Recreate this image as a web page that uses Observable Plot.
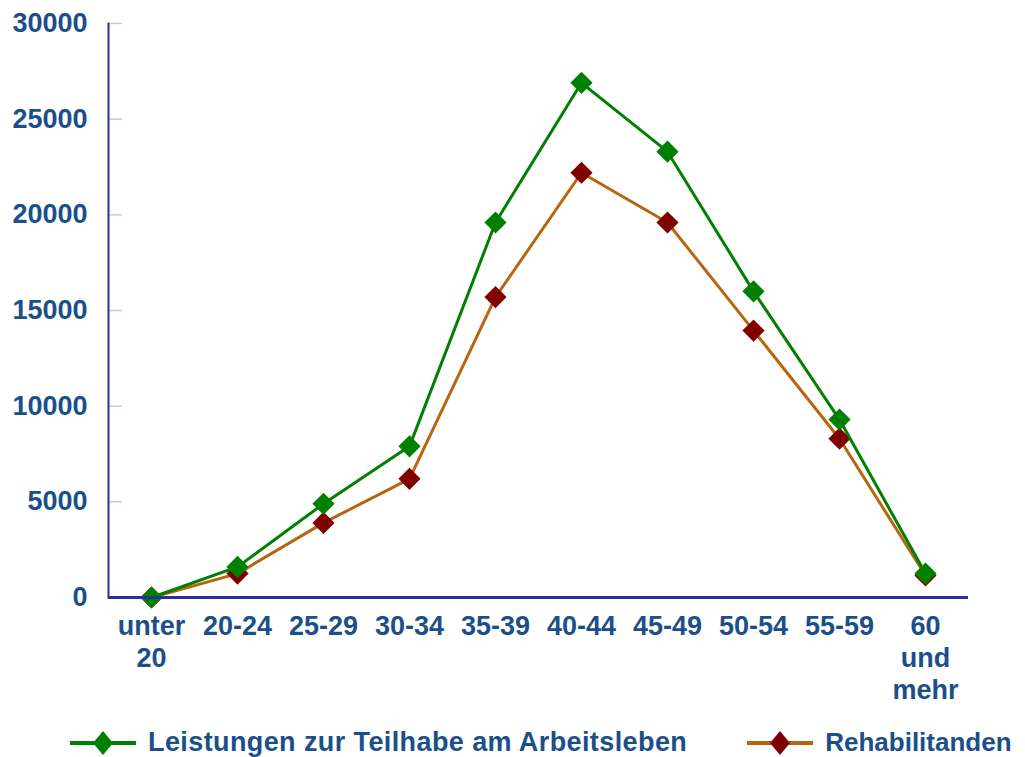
<!DOCTYPE html>
<html>
<head>
<meta charset="utf-8">
<script src="https://cdn.jsdelivr.net/npm/d3@7"></script>
<script src="https://cdn.jsdelivr.net/npm/@observablehq/plot@0.6"></script>
<style>
  html, body { margin: 0; padding: 0; background: #fff; overflow: hidden; }
  #chart { width: 1025px; }
  .legend { display: flex; align-items: center; height: 37px; padding-top: 4px;
    font-family: "Liberation Sans", Arial, sans-serif; font-weight: bold; color: #1b4f8a; white-space: nowrap; }
  .item { display: flex; align-items: center; }
  .item svg { display: block; }
</style>
</head>
<body>
<div id="chart"></div>
<div class="legend" id="legend"></div>
<script>
const categories = ["unter 20", "20-24", "25-29", "30-34", "35-39", "40-44", "45-49", "50-54", "55-59", "60 und mehr"];
const categoryLabels = ["unter\n20", "20-24", "25-29", "30-34", "35-39", "40-44", "45-49", "50-54", "55-59", "60\nund\nmehr"];
const leistungen = [0, 1600, 4900, 7900, 19600, 26900, 23300, 16000, 9300, 1250];
const rehabilitanden = [0, 1250, 3900, 6200, 15700, 22200, 19600, 13950, 8300, 1150];
const yTicks = [0, 5000, 10000, 15000, 20000, 25000, 30000];
const seriesNames = ["Leistungen zur Teilhabe am Arbeitsleben", "Rehabilitanden"];

const textColor = "#1b4f8a";
const axisColor = "#2e2e9a";
const greenLine = "#008000", greenMark = "#008000";
const brownLine = "#b8650f", redMark = "#800000";

const green = categories.map((c, i) => ({cat: c, value: leistungen[i]}));
const red = categories.map((c, i) => ({cat: c, value: rehabilitanden[i]}));
const labelOf = Object.fromEntries(categories.map((c, i) => [c, categoryLabels[i]]));

const chart = Plot.plot({
  width: 1025,
  height: 720,
  marginLeft: 108,
  marginRight: 57,
  marginTop: 23,
  marginBottom: 123,
  style: {fontFamily: "'Liberation Sans', Arial, sans-serif", fontWeight: "bold", fontSize: "26px", color: textColor, background: "white"},
  x: {type: "point", domain: categories, padding: 0.5},
  y: {domain: [0, 30000]},
  marks: [
    Plot.axisY({ticks: yTicks.slice(1), tickSize: 14, dx: 14, stroke: "#c8c8e6", strokeWidth: 1.5, tickFormat: () => "", label: null}),
    Plot.axisY({ticks: yTicks, tickSize: 0, tickPadding: 21, tickFormat: d => String(d), label: null, fill: textColor, fontSize: 27, fontWeight: "bold"}),
    Plot.axisX({tickSize: 0, tickPadding: 14, tickFormat: d => labelOf[d], label: null, fill: textColor, fontSize: 27, fontWeight: "bold", lineHeight: 1.2, lineAnchor: "top"}),
    Plot.line(red, {x: "cat", y: "value", stroke: brownLine, strokeWidth: 3}),
    Plot.dot(red, {x: "cat", y: "value", symbol: "diamond2", r: 10, fill: redMark, stroke: "none"}),
    Plot.line(green, {x: "cat", y: "value", stroke: greenLine, strokeWidth: 3}),
    Plot.dot(green, {x: "cat", y: "value", symbol: "diamond2", r: 10, fill: greenMark, stroke: "none"}),
    Plot.frame({anchor: "left", stroke: axisColor, strokeWidth: 2}),
    Plot.ruleY([0], {stroke: axisColor, strokeWidth: 3})
  ]
});
document.getElementById("chart").appendChild(chart);

// Legend
const legend = d3.select("#legend");
const items = [
  {name: seriesNames[0], line: greenLine, mark: greenMark, left: 70, size: 27, spacing: 0.4},
  {name: seriesNames[1], line: brownLine, mark: redMark, left: 60, size: 26, spacing: 0}
];
items.forEach((it, i) => {
  const div = legend.append("div").attr("class", "item").style("margin-left", it.left + "px");
  const s = div.append("svg").attr("width", 66).attr("height", 26);
  s.append("line").attr("x1", 0).attr("x2", 66).attr("y1", 13).attr("y2", 13).attr("stroke", it.line).attr("stroke-width", 4);
  s.append("path").attr("d", "M33,1 L43,13 L33,25 L23,13 Z").attr("fill", it.mark);
  div.append("span").style("margin-left", "12px").style("font-size", it.size + "px")
    .style("letter-spacing", it.spacing + "px").text(it.name);
});
</script>
</body>
</html>
